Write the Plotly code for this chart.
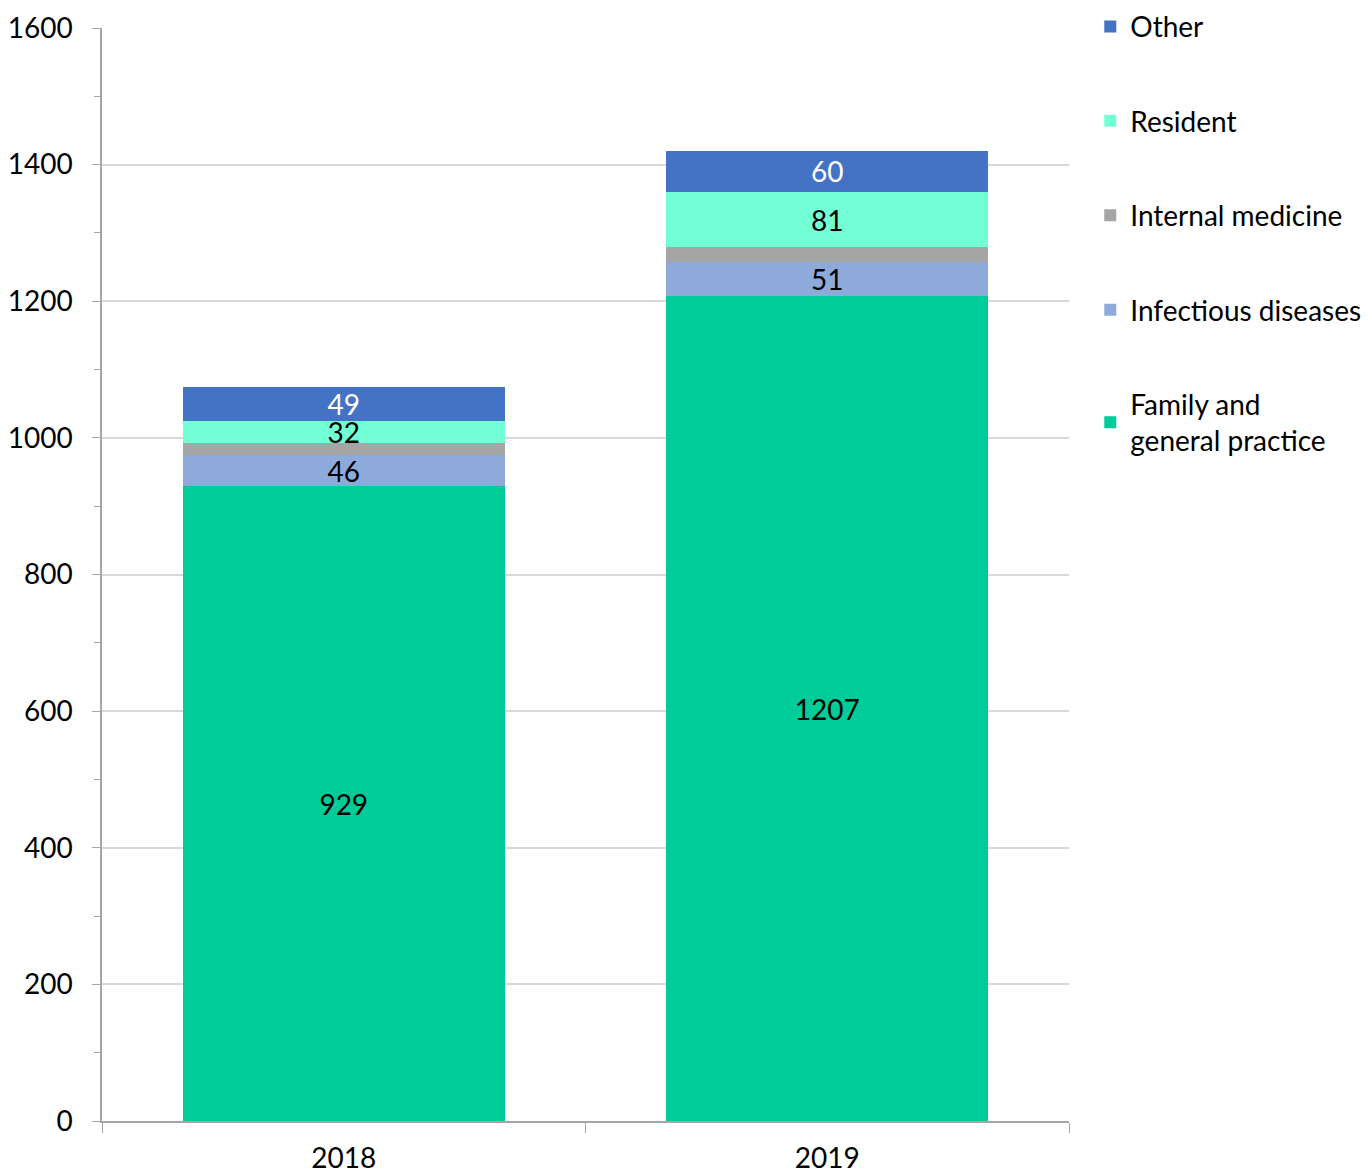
import plotly.graph_objects as go

years = ["2018", "2019"]
family = [929, 1207]
infectious = [46, 51]
internal = [18, 21]
resident = [32, 81]
other = [49, 60]

family_text = ["929", "1207"]
infectious_text = ["46", "51"]
internal_text = ["", ""]
resident_text = ["32", "81"]
other_text = ["49", "60"]

FONT = "Lato"
series = [
    ("Family and<br>general practice", family, family_text, "#00CC99", "black", 5),
    ("Infectious diseases", infectious, infectious_text, "#8EAADB", "black", 4),
    ("Internal medicine", internal, internal_text, "#A5A5A5", "black", 3),
    ("Resident", resident, resident_text, "#73FFD6", "black", 2),
    ("Other", other, other_text, "#4472C4", "white", 1),
]

fig = go.Figure()
for i, (name, vals, txt, col, tcol, rank) in enumerate(series):
    fig.add_trace(go.Bar(
        x=years, y=vals, name=name, text=txt,
        textposition="inside", insidetextanchor="middle", textangle=0,
        textfont=dict(color=tcol, size=28, family=FONT),
        marker=dict(color=col, line=dict(width=0)),
        legendgroup=f"g{i}", legendrank=rank,
    ))

fig.update_layout(
    barmode="stack",
    bargap=0.334,
    width=1369, height=1173,
    margin=dict(l=94, r=308, t=20, b=60, autoexpand=False),
    plot_bgcolor="white", paper_bgcolor="white",
    font=dict(family=FONT, size=28, color="black"),
    uniformtext=dict(minsize=28, mode="show"),
    legend=dict(
        x=1.022, y=1.024, xanchor="left", yanchor="top",
        traceorder="grouped", tracegroupgap=55,
        font=dict(size=28, family=FONT),
        itemwidth=30,
    ),
    showlegend=True,
)
fig.update_yaxes(
    range=[0, 1600], dtick=200,
    showgrid=True, gridcolor="#D9D9D9", gridwidth=1.5,
    showline=True, linecolor="#A6A6A6", linewidth=1.5,
    ticks="outside", ticklen=8, tickcolor="#A6A6A6",
    minor=dict(dtick=100, ticks="outside", ticklen=6, tickcolor="#A6A6A6", showgrid=False),
    tickfont=dict(size=28), zeroline=False, ticklabelstandoff=14,
)
fig.update_xaxes(
    showline=True, linecolor="#A6A6A6", linewidth=1.5,
    ticks="outside", ticklen=10, tickcolor="#A6A6A6", tickson="boundaries",
    tickfont=dict(size=28), ticklabelstandoff=12,
)
fig.write_html("out.html")
